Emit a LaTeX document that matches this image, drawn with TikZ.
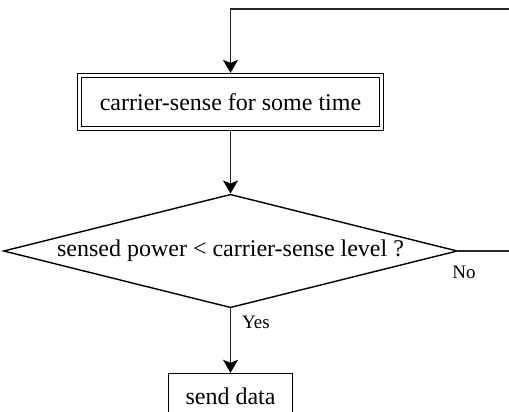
\documentclass[tikz,border=0pt]{standalone}
\usepackage{fontspec}
\setmainfont{Liberation Serif}
\usetikzlibrary{shapes.geometric,arrows.meta}
\tikzset{
  flowbox/.style={draw, rectangle, line width=0.7pt, font=\fontsize{12}{14}\selectfont, inner sep=0pt},
  flowdouble/.style={flowbox, double, double distance=1.2pt, outer sep=1.3pt},
  flowtest/.style={draw, diamond, line width=0.7pt, aspect=4, inner sep=1pt, font=\fontsize{12}{14}\selectfont},
  flowwire/.style={line width=0.7pt, black!85, >={Stealth[length=6.5pt,width=7.5pt,inset=1.5pt,color=black]}},
  flowlabel/.style={font=\fontsize{9.5}{11}\selectfont, inner sep=1pt}
}
\begin{document}
\begin{tikzpicture}[x=0.5pt,y=-0.5pt]
    \clip (0,0) rectangle (509,412);
    \node[flowdouble, minimum width=151pt, minimum height=26.5pt] (cs) at (230.5,102) {carrier-sense for some time};
    \node[flowtest, minimum width=222pt, minimum height=56pt] (test) at (230.5,251) {sensed power < carrier-sense level ?};
    \node[flowbox, minimum width=62pt, minimum height=23pt] (send) at (230.5,396.5) {send data};
    \node[flowlabel] (no) at (464,272) {No};
    \node[flowlabel] (yes) at (256,322) {Yes};
    \coordinate (loop) at (530,9);

    \draw[flowwire,->] (cs) -- (test);
    \draw[flowwire,->] (test) -- (send);
    \draw[flowwire,->] (test.east) -| (loop) -| (cs.north); % back to sensing
\end{tikzpicture}
\end{document}
